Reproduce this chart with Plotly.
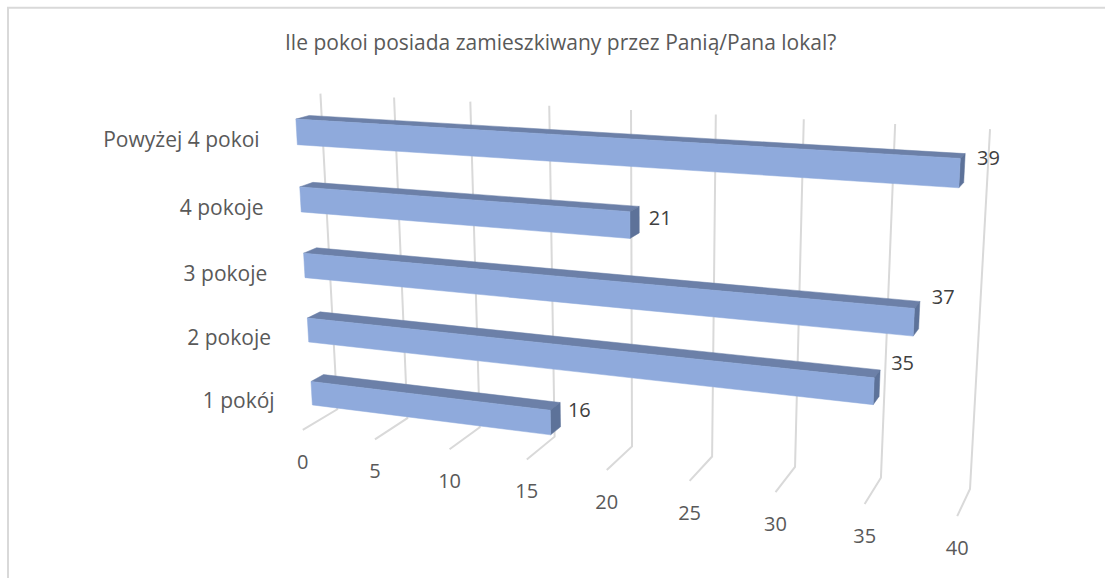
import numpy as np
import plotly.graph_objects as go

# --- data ---
title = "Ile pokoi posiada zamieszkiwany przez Panią/Pana lokal?"
categories = ["1 pokój", "2 pokoje", "3 pokoje", "4 pokoje", "Powyżej 4 pokoi"]
values = [16, 35, 37, 21, 39]
ticks = [0, 5, 10, 15, 20, 25, 30, 35, 40]

# --- style ---
W, H = 1105, 578
FRONT, TOP, SIDE = "#8FAADC", "#6C80A8", "#5D7299"
GRID = "#D9D9D9"
FONT = "Open Sans"
C_TOP = 4.95            # height of the wall in category slots
BAR_LO, BAR_HI = 0.30, 0.675
D_BACK, D_FRONT = 0.34, 0.70
VALUE_LABEL_SHIFT = [(19, -3), (23, -18), (24, -16), (21, 0), (24, -8)]

# Camera calibration of the 3D chart box: (value, slot height, depth) -> page pixel
CAL = [
    ((0, 0, 0), (337, 409)), ((5, 0, 0), (408, 418)), ((10, 0, 0), (480, 427)),
    ((15, 0, 0), (554, 437)), ((35, 0, 0), (881, 478)), ((40, 0, 0), (970, 489)),
    ((0, C_TOP, 0), (320, 94)), ((5, C_TOP, 0), (394, 97)), ((10, C_TOP, 0), (471, 102)),
    ((35, C_TOP, 0), (895, 124)), ((40, C_TOP, 0), (990, 129)),
    ((0, 0, 1), (303, 430)), ((5, 0, 1), (375, 440)), ((10, 0, 1), (449, 449)),
    ((15, 0, 1), (527, 459)), ((35, 0, 1), (865, 504)), ((40, 0, 1), (957, 516)),
]

def solve_camera(cal):
    scale = np.array([40.0, 5.0, 1.0, 1.0])
    rows = []
    for (v, c, d), (x, y) in cal:
        X = np.array([v, c, d, 1.0]) / scale
        rows.append(np.r_[X, np.zeros(4), -x / 1000 * X])
        rows.append(np.r_[np.zeros(4), X, -y / 1000 * X])
    _, _, vt = np.linalg.svd(np.array(rows))
    m = vt[-1].reshape(3, 4)
    m = m / scale
    m[:2] *= 1000
    return m

P = solve_camera(CAL)

def project(v, c, d):
    q = P @ np.array([v, c, d, 1.0])
    return q[0] / q[2], q[1] / q[2]

fig = go.Figure()

# chart-area border (left and top edges only are visible in the crop)
fig.add_trace(go.Scatter(x=[8, 8, W], y=[H, 7.8, 7.8], mode="lines",
                         line=dict(color=GRID, width=2), hoverinfo="skip", showlegend=False))

# value gridlines: up the back wall, out over the floor
gx, gy = [], []
for t in ticks:
    for pt in (project(t, C_TOP, 0), project(t, 0, 0), project(t, 0, 1)):
        gx.append(pt[0]); gy.append(pt[1])
    gx.append(None); gy.append(None)
fig.add_trace(go.Scatter(x=gx, y=gy, mode="lines", line=dict(color=GRID, width=2),
                         hoverinfo="skip", showlegend=False))

# bars
def face(corners, color, cat, val):
    pts = [project(*c) for c in corners] + [project(*corners[0])]
    fig.add_trace(go.Scatter(x=[p[0] for p in pts], y=[p[1] for p in pts], mode="lines",
                             fill="toself", fillcolor=color, line=dict(color=color, width=0.5),
                             name=cat, customdata=[val] * len(pts),
                             hovertemplate=cat + ": %{customdata}<extra></extra>", showlegend=False))

for i, (cat, val) in enumerate(zip(categories, values)):
    lo, hi = i + BAR_LO, i + BAR_HI
    face([(0, hi, D_FRONT), (val, hi, D_FRONT), (val, hi, D_BACK), (0, hi, D_BACK)], TOP, cat, val)
    face([(val, lo, D_FRONT), (val, hi, D_FRONT), (val, hi, D_BACK), (val, lo, D_BACK)], SIDE, cat, val)
    face([(0, lo, D_FRONT), (val, lo, D_FRONT), (val, hi, D_FRONT), (0, hi, D_FRONT)], FRONT, cat, val)

# tick labels below the floor edge
tp = [project(t, 0, 1) for t in ticks]
fig.add_trace(go.Scatter(x=[p[0] for p in tp], y=[p[1] + 34 for p in tp], mode="text",
                         text=[str(t) for t in ticks], textposition="middle center",
                         textfont=dict(family=FONT, size=20, color="#595959"),
                         hoverinfo="skip", showlegend=False))

# category labels
cp = [project(0, i + (BAR_LO + BAR_HI) / 2, D_FRONT) for i in range(len(categories))]
fig.add_trace(go.Scatter(x=[p[0] - 37 for p in cp], y=[p[1] + 10 for p in cp], mode="text",
                         text=categories, textposition="middle left",
                         textfont=dict(family=FONT, size=21, color="#595959"),
                         hoverinfo="skip", showlegend=False))

# value labels
vp = [project(v, i + (BAR_LO + BAR_HI) / 2, D_BACK) for i, v in enumerate(values)]
fig.add_trace(go.Scatter(x=[p[0] + s[0] for p, s in zip(vp, VALUE_LABEL_SHIFT)],
                         y=[p[1] + s[1] for p, s in zip(vp, VALUE_LABEL_SHIFT)], mode="text",
                         text=[str(v) for v in values], textposition="middle center",
                         textfont=dict(family=FONT, size=20, color="#404040"),
                         hoverinfo="skip", showlegend=False))

fig.update_layout(
    width=W, height=H, margin=dict(l=0, r=0, t=0, b=0),
    paper_bgcolor="white", plot_bgcolor="white", showlegend=False,
    xaxis=dict(range=[0, W], visible=False, fixedrange=True),
    yaxis=dict(range=[H, 0], visible=False, fixedrange=True),
    annotations=[dict(x=560, y=42, xref="x", yref="y", text=title, showarrow=False,
                      font=dict(family=FONT, size=21, color="#595959"))],
)
fig.write_html("out.html", post_script="document.body.style.margin='0';",
               config=dict(displayModeBar=False))
